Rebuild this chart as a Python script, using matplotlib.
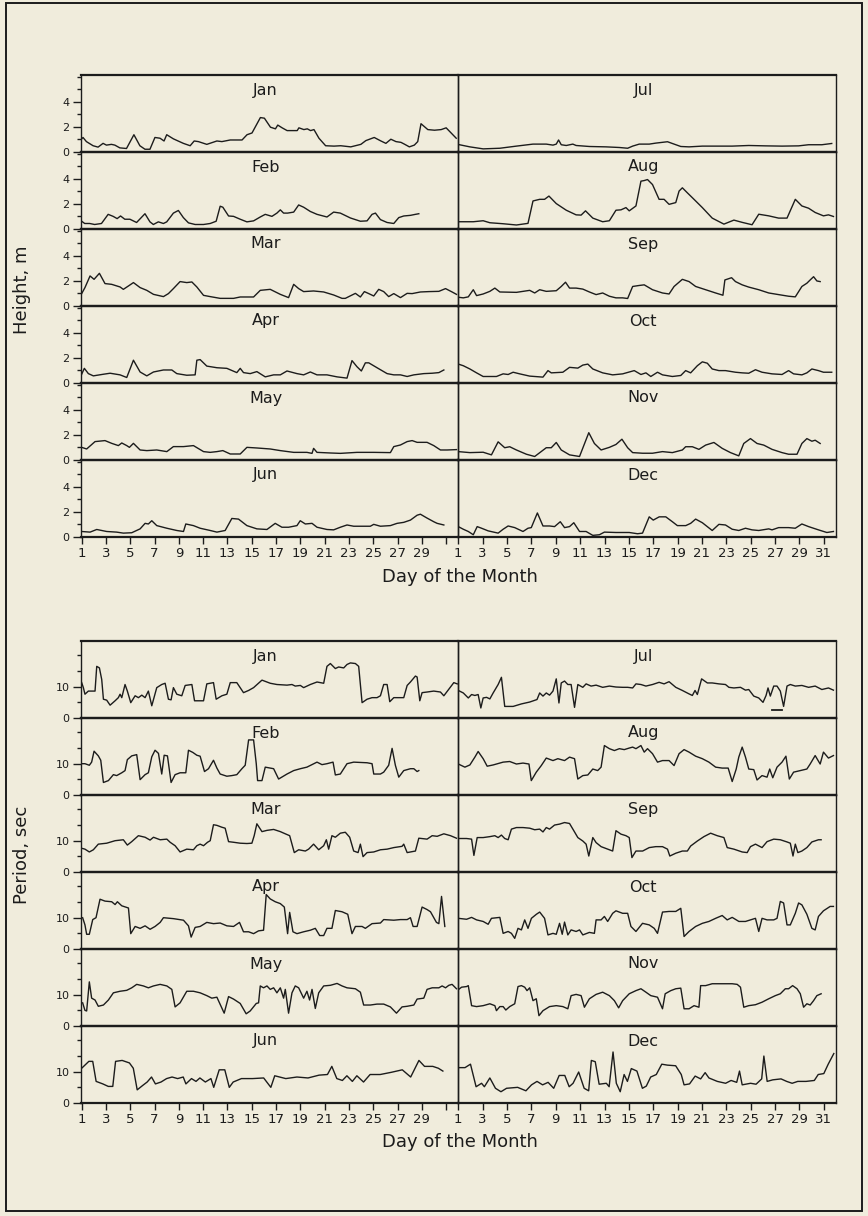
import matplotlib.pyplot as plt
from matplotlib.patches import Rectangle
from matplotlib.ticker import FixedLocator

# ---- data: (day of month, value) ----
# wave height, m
hs_jan = [(1.0, 1.05), (1.11, 1.16), (1.39, 0.83), (1.94, 0.5), (2.35, 0.39), (2.76, 0.69), (3.04, 0.55), (3.45, 0.61),
          (3.73, 0.55), (4.14, 0.33), (4.69, 0.28), (5.3, 1.38), (5.79, 0.5), (6.21, 0.22), (6.62, 0.22), (7.03, 1.16),
          (7.45, 1.1), (7.78, 0.88), (8.0, 1.38), (8.55, 1.05), (9.37, 0.69), (9.93, 0.5), (10.26, 0.88), (10.61, 0.83),
          (11.3, 0.61), (12.13, 0.88), (12.54, 0.83), (13.23, 0.96), (14.2, 0.96), (14.61, 1.38), (15.02, 1.52),
          (15.71, 2.75), (16.04, 2.7), (16.54, 1.98), (16.95, 1.85), (17.14, 2.15), (17.5, 1.93), (17.91, 1.71),
          (18.74, 1.71), (18.88, 1.93), (19.29, 1.79), (19.57, 1.85), (19.84, 1.71), (20.12, 1.79), (20.53, 1.1),
          (21.08, 0.5), (21.77, 0.47), (22.32, 0.5), (23.15, 0.41), (23.98, 0.61), (24.39, 0.91), (25.08, 1.16),
          (25.63, 0.88), (26.04, 0.69), (26.45, 1.02), (26.87, 0.83), (27.28, 0.77), (27.56, 0.63), (27.97, 0.41),
          (28.38, 0.55), (28.66, 0.83), (28.93, 2.26), (29.49, 1.79), (30.04, 1.74), (30.59, 1.79), (31.0, 1.93),
          (31.41, 1.52), (31.83, 1.1)]
hs_feb = [(1.0, 0.62), (1.25, 0.44), (1.66, 0.44), (2.07, 0.36), (2.63, 0.44), (3.18, 1.17), (3.59, 1.01), (3.92, 0.83),
          (4.2, 1.04), (4.55, 0.78), (4.97, 0.78), (5.52, 0.52), (6.21, 1.22), (6.62, 0.57), (6.9, 0.36), (7.31, 0.57),
          (7.73, 0.44), (8.0, 0.57), (8.55, 1.27), (8.96, 1.48), (9.37, 0.91), (9.79, 0.49), (10.34, 0.36), (11.03, 0.36),
          (11.58, 0.44), (12.07, 0.62), (12.4, 1.82), (12.62, 1.74), (13.09, 1.04), (13.5, 1.01), (14.05, 0.78),
          (14.6, 0.57), (15.15, 0.65), (15.7, 0.96), (16.11, 1.17), (16.66, 1.01), (17.07, 1.27), (17.35, 1.53),
          (17.62, 1.27), (17.95, 1.27), (18.45, 1.35), (18.86, 1.92), (19.27, 1.74), (19.82, 1.4), (20.37, 1.17),
          (21.19, 0.96), (21.74, 1.35), (22.29, 1.27), (23.12, 0.88), (23.94, 0.62), (24.49, 0.65), (24.9, 1.17),
          (25.18, 1.27), (25.59, 0.75), (26.14, 0.52), (26.69, 0.44), (27.1, 0.91), (27.51, 1.04), (28.06, 1.09),
          (28.47, 1.17), (28.75, 1.22)]
hs_mar = [(1.0, 0.99), (1.27, 1.47), (1.69, 2.4), (2.02, 2.13), (2.46, 2.61), (2.92, 1.79), (3.47, 1.73), (4.16, 1.52),
          (4.43, 1.33), (4.85, 1.6), (5.26, 1.87), (5.81, 1.47), (6.36, 1.25), (6.91, 0.93), (7.73, 0.75), (8.14, 0.99),
          (8.55, 1.39), (9.1, 1.95), (9.65, 1.87), (10.07, 1.92), (10.48, 1.52), (11.03, 0.85), (11.58, 0.75),
          (12.4, 0.61), (13.5, 0.61), (14.05, 0.72), (15.15, 0.72), (15.7, 1.25), (16.52, 1.33), (17.35, 0.93),
          (18.03, 0.67), (18.45, 1.73), (18.86, 1.39), (19.27, 1.15), (20.09, 1.2), (20.92, 1.12), (21.74, 0.88),
          (22.43, 0.61), (22.7, 0.61), (23.53, 1.01), (23.94, 0.72), (24.27, 1.15), (24.63, 0.99), (25.04, 0.8),
          (25.45, 1.33), (25.86, 1.15), (26.27, 0.75), (26.69, 0.99), (27.24, 0.67), (27.79, 1.01), (28.2, 0.99),
          (28.88, 1.12), (29.57, 1.15), (30.4, 1.17), (30.95, 1.39), (31.49, 1.12), (31.85, 0.93)]
hs_apr = [(1.0, 0.7), (1.22, 1.17), (1.55, 0.75), (1.96, 0.57), (2.79, 0.7), (3.34, 0.78), (4.16, 0.65), (4.71, 0.44),
          (5.26, 1.82), (5.81, 0.88), (6.36, 0.57), (6.91, 0.88), (7.73, 1.04), (8.42, 1.04), (8.83, 0.75), (9.65, 0.62),
          (10.34, 0.65), (10.48, 1.82), (10.75, 1.87), (11.3, 1.35), (12.13, 1.22), (12.95, 1.17), (13.77, 0.83),
          (14.05, 1.17), (14.32, 0.83), (14.87, 0.75), (15.42, 0.91), (16.11, 0.49), (16.8, 0.65), (17.35, 0.65),
          (17.9, 0.96), (18.72, 0.75), (19.27, 0.65), (19.82, 0.88), (20.37, 0.65), (21.19, 0.65), (22.02, 0.49),
          (22.84, 0.39), (23.25, 1.79), (23.66, 1.3), (24.02, 0.96), (24.35, 1.61), (24.63, 1.61), (25.31, 1.22),
          (26.14, 0.75), (26.69, 0.65), (27.24, 0.65), (27.79, 0.52), (28.34, 0.65), (29.16, 0.75), (29.85, 0.78),
          (30.4, 0.83), (30.81, 1.04)]
hs_may = [(1.0, 1.01), (1.41, 0.88), (2.1, 1.47), (2.92, 1.55), (3.47, 1.33), (4.02, 1.15), (4.3, 1.36), (4.71, 1.15),
          (4.93, 1.01), (5.26, 1.33), (5.81, 0.8), (6.36, 0.75), (7.18, 0.8), (8.01, 0.67), (8.55, 1.07), (9.38, 1.07),
          (10.2, 1.15), (11.03, 0.67), (11.58, 0.61), (12.13, 0.67), (12.62, 0.75), (13.23, 0.48), (14.05, 0.48),
          (14.6, 1.01), (15.42, 0.96), (16.52, 0.88), (17.35, 0.75), (18.45, 0.61), (19.54, 0.61), (19.96, 0.53),
          (20.09, 0.93), (20.37, 0.61), (21.47, 0.56), (22.29, 0.53), (23.66, 0.61), (25.04, 0.61), (26.41, 0.59),
          (26.69, 1.07), (27.24, 1.2), (27.79, 1.47), (28.2, 1.55), (28.61, 1.41), (29.43, 1.41), (29.98, 1.15),
          (30.53, 0.8), (31.08, 0.8), (31.85, 0.83)]
hs_jun = [(1.0, 0.44), (1.69, 0.39), (2.24, 0.6), (3.06, 0.44), (3.88, 0.39), (4.43, 0.31), (5.12, 0.34), (5.81, 0.65),
          (6.22, 1.09), (6.49, 1.04), (6.77, 1.3), (7.18, 0.91), (8.01, 0.7), (8.83, 0.52), (9.38, 0.44), (9.57, 1.04),
          (10.2, 0.91), (10.75, 0.7), (11.58, 0.52), (12.13, 0.39), (12.81, 0.52), (13.36, 1.48), (13.91, 1.43),
          (14.6, 0.91), (15.42, 0.65), (16.25, 0.6), (16.93, 1.09), (17.48, 0.78), (18.03, 0.78), (18.72, 0.91),
          (18.99, 1.3), (19.41, 1.04), (19.96, 1.09), (20.37, 0.78), (21.19, 0.6), (21.74, 0.57), (22.29, 0.78),
          (22.84, 0.96), (23.39, 0.86), (23.94, 0.86), (24.76, 0.86), (25.04, 1.01), (25.59, 0.86), (26.41, 0.91),
          (26.96, 1.09), (27.51, 1.17), (28.06, 1.35), (28.61, 1.74), (28.88, 1.82), (29.43, 1.51), (29.98, 1.22),
          (30.26, 1.09), (30.81, 0.96)]
hs_jul = [(1.0, 0.6), (1.95, 0.41), (3.04, 0.25), (4.41, 0.3), (5.77, 0.47), (7.13, 0.63), (8.22, 0.63), (8.77, 0.55),
          (9.04, 0.63), (9.23, 0.96), (9.45, 0.58), (9.86, 0.52), (10.4, 0.63), (10.67, 0.52), (11.76, 0.44),
          (13.13, 0.41), (14.22, 0.36), (14.9, 0.3), (15.31, 0.47), (15.85, 0.63), (16.67, 0.63), (17.21, 0.71),
          (18.17, 0.82), (18.57, 0.68), (19.26, 0.44), (19.94, 0.41), (21.03, 0.47), (22.12, 0.47), (23.48, 0.47),
          (24.84, 0.52), (26.2, 0.49), (27.57, 0.47), (28.93, 0.49), (29.75, 0.58), (30.84, 0.58), (31.65, 0.68)]
hs_aug = [(1.0, 0.58), (2.23, 0.58), (3.04, 0.66), (3.59, 0.5), (4.68, 0.42), (5.77, 0.32), (6.72, 0.45), (7.13, 2.24),
          (7.68, 2.37), (8.08, 2.37), (8.44, 2.63), (9.04, 2.03), (9.86, 1.5), (10.67, 1.13), (11.08, 1.11),
          (11.44, 1.45), (12.04, 0.87), (12.85, 0.58), (13.4, 0.66), (13.94, 1.5), (14.35, 1.53), (14.76, 1.71),
          (15.03, 1.45), (15.58, 1.84), (15.99, 3.82), (16.26, 3.87), (16.53, 3.95), (16.94, 3.55), (17.48, 2.37),
          (17.89, 2.37), (18.3, 1.97), (18.85, 2.11), (19.12, 3.03), (19.39, 3.29), (19.8, 2.89), (20.21, 2.5),
          (21.03, 1.71), (21.84, 0.87), (22.8, 0.39), (23.62, 0.71), (24.3, 0.53), (25.11, 0.34), (25.66, 1.18),
          (26.48, 1.05), (27.29, 0.87), (27.98, 0.87), (28.66, 2.37), (29.2, 1.84), (29.75, 1.66), (30.29, 1.32),
          (30.97, 1.05), (31.38, 1.13), (31.79, 1.0)]
hs_sep = [(1.0, 0.7), (1.41, 0.65), (1.82, 0.73), (2.23, 1.3), (2.5, 0.83), (3.04, 0.96), (3.59, 1.17), (4.0, 1.43),
          (4.41, 1.12), (5.77, 1.09), (6.86, 1.25), (7.27, 1.04), (7.68, 1.3), (8.22, 1.17), (9.04, 1.22), (9.45, 1.56),
          (9.8, 1.9), (10.13, 1.43), (10.67, 1.43), (11.22, 1.35), (11.76, 1.12), (12.31, 0.91), (12.85, 1.04),
          (13.4, 0.78), (13.94, 0.65), (14.49, 0.65), (14.9, 0.6), (15.31, 1.56), (15.85, 1.64), (16.26, 1.69),
          (16.94, 1.3), (17.76, 1.04), (18.3, 0.96), (18.71, 1.56), (19.39, 2.13), (19.94, 1.95), (20.48, 1.56),
          (21.3, 1.3), (22.12, 1.04), (22.72, 0.86), (22.88, 2.08), (23.43, 2.26), (23.75, 1.95), (24.3, 1.69),
          (24.84, 1.51), (25.66, 1.3), (26.48, 1.04), (27.29, 0.91), (28.11, 0.78), (28.66, 0.73), (29.2, 1.56),
          (29.61, 1.82), (29.88, 2.08), (30.16, 2.34), (30.43, 2.0), (30.7, 1.95)]
hs_oct = [(1.0, 1.51), (1.41, 1.38), (1.95, 1.12), (2.5, 0.81), (3.04, 0.52), (4.13, 0.52), (4.68, 0.73), (5.09, 0.68),
          (5.5, 0.86), (6.04, 0.73), (6.86, 0.55), (7.95, 0.47), (8.36, 0.99), (8.63, 0.81), (9.58, 0.86),
          (10.13, 1.25), (10.81, 1.19), (11.22, 1.43), (11.63, 1.51), (12.04, 1.12), (12.85, 0.81), (13.67, 0.65),
          (14.49, 0.73), (15.44, 0.99), (15.99, 0.68), (16.4, 0.81), (16.8, 0.52), (17.35, 0.86), (17.76, 0.65),
          (18.57, 0.52), (19.26, 0.6), (19.66, 0.99), (20.07, 0.81), (20.62, 1.38), (21.03, 1.69), (21.44, 1.58),
          (21.84, 1.12), (22.39, 0.99), (22.93, 0.99), (23.75, 0.86), (24.3, 0.81), (24.84, 0.78), (25.39, 1.06),
          (25.93, 0.86), (26.75, 0.73), (27.57, 0.68), (28.11, 0.99), (28.52, 0.73), (29.2, 0.65), (29.61, 0.81),
          (30.02, 1.12), (30.56, 0.99), (30.97, 0.86), (31.65, 0.86)]
hs_nov = [(1.0, 0.67), (1.95, 0.59), (3.04, 0.62), (3.72, 0.41), (4.27, 1.45), (4.81, 0.98), (5.22, 1.06), (5.77, 0.8),
          (6.59, 0.46), (7.27, 0.28), (8.22, 0.98), (8.63, 0.98), (9.04, 1.4), (9.45, 0.8), (10.13, 0.41), (10.95, 0.28),
          (11.71, 2.18), (12.17, 1.32), (12.72, 0.8), (13.4, 1.01), (13.94, 1.24), (14.43, 1.66), (14.9, 0.98),
          (15.31, 0.59), (16.13, 0.54), (16.94, 0.54), (17.76, 0.67), (18.57, 0.59), (19.39, 0.8), (19.66, 1.06),
          (20.21, 1.06), (20.75, 0.85), (21.3, 1.19), (21.98, 1.4), (22.66, 0.93), (23.34, 0.59), (24.02, 0.33),
          (24.43, 1.32), (24.98, 1.71), (25.52, 1.32), (26.07, 1.19), (26.75, 0.85), (27.57, 0.59), (28.11, 0.46),
          (28.8, 0.46), (29.2, 1.32), (29.61, 1.71), (30.02, 1.5), (30.29, 1.58), (30.7, 1.32)]
hs_dec = [(1.0, 0.83), (1.41, 0.62), (1.82, 0.44), (2.23, 0.18), (2.55, 0.83), (2.91, 0.7), (3.45, 0.49), (4.27, 0.31),
          (4.68, 0.62), (5.09, 0.88), (5.63, 0.75), (6.31, 0.44), (6.72, 0.7), (6.99, 0.75), (7.49, 1.92), (7.95, 0.88),
          (8.49, 0.88), (8.9, 0.83), (9.37, 1.22), (9.72, 0.75), (10.13, 0.83), (10.48, 1.14), (10.95, 0.44),
          (11.49, 0.44), (12.04, 0.13), (12.58, 0.18), (12.99, 0.39), (13.94, 0.36), (15.03, 0.36), (15.71, 0.26),
          (16.12, 0.31), (16.67, 1.61), (17.0, 1.35), (17.49, 1.61), (18.03, 1.61), (18.57, 1.22), (18.98, 0.91),
          (19.67, 0.91), (20.07, 1.09), (20.48, 1.43), (21.03, 1.14), (21.84, 0.52), (22.39, 1.01), (22.93, 0.96),
          (23.48, 0.62), (24.02, 0.52), (24.57, 0.7), (25.11, 0.57), (25.66, 0.52), (26.48, 0.65), (26.75, 0.57),
          (27.29, 0.75), (28.11, 0.75), (28.66, 0.7), (29.2, 1.04), (29.75, 0.83), (30.56, 0.57), (31.25, 0.36),
          (31.79, 0.44)]

# wave period, sec
tp_jan = [(1.0, 11.3), (1.14, 9.7), (1.27, 7.6), (1.55, 8.6), (1.96, 8.6), (2.1, 8.6), (2.24, 16.5), (2.46, 16.0),
          (2.65, 12.3), (2.79, 6.0), (3.06, 5.7), (3.34, 4.1), (3.75, 5.5), (4.02, 6.5), (4.16, 7.6), (4.3, 6.5),
          (4.57, 10.7), (4.76, 8.6), (5.04, 4.9), (5.4, 7.1), (5.67, 6.5), (5.95, 7.3), (6.22, 6.5), (6.49, 8.6),
          (6.77, 3.9), (7.18, 9.7), (7.59, 10.7), (7.87, 11.1), (8.14, 6.0), (8.36, 5.8), (8.55, 9.7), (8.83, 7.6),
          (9.24, 7.1), (9.52, 10.4), (10.07, 10.7), (10.29, 5.5), (11.03, 5.5), (11.3, 10.9), (11.85, 11.3),
          (12.07, 6.0), (12.54, 7.1), (12.95, 7.6), (13.23, 11.3), (13.77, 11.3), (14.32, 8.1), (14.74, 8.8),
          (15.15, 9.7), (15.84, 12.1), (16.52, 11.1), (17.07, 10.7), (17.9, 10.5), (18.31, 10.7), (18.58, 10.2),
          (19.0, 10.4), (19.27, 9.7), (19.82, 10.7), (20.37, 11.5), (20.92, 11.1), (21.19, 16.5), (21.47, 17.4),
          (21.88, 15.8), (22.15, 16.3), (22.57, 16.0), (22.84, 17.1), (23.12, 17.6), (23.53, 17.4), (23.8, 16.5),
          (24.08, 4.9), (24.49, 6.0), (24.9, 6.5), (25.31, 6.5), (25.59, 7.1), (25.86, 10.7), (26.14, 10.7),
          (26.36, 5.2), (26.69, 6.5), (27.51, 6.5), (27.79, 10.4), (28.06, 11.5), (28.47, 13.4), (28.61, 13.1),
          (28.83, 5.5), (29.02, 8.1), (29.43, 8.3), (29.98, 8.6), (30.53, 8.3), (30.81, 7.1), (31.22, 9.2),
          (31.63, 11.3), (31.91, 10.9)]
tp_feb = [(1.0, 10.0), (1.27, 10.0), (1.63, 9.5), (1.82, 10.5), (2.02, 14.0), (2.37, 12.5), (2.57, 11.1), (2.79, 4.0),
          (3.2, 4.6), (3.61, 6.5), (3.88, 6.2), (4.3, 7.1), (4.57, 7.8), (4.76, 11.3), (5.12, 12.5), (5.53, 12.9),
          (5.81, 4.9), (6.22, 6.5), (6.49, 7.1), (6.77, 12.2), (7.04, 14.3), (7.32, 13.3), (7.59, 6.7), (7.79, 12.7),
          (8.06, 12.5), (8.36, 4.0), (8.69, 6.5), (9.1, 7.1), (9.57, 7.1), (9.79, 14.3), (10.15, 13.6), (10.48, 12.7),
          (10.75, 12.4), (11.11, 7.5), (11.44, 8.4), (11.85, 11.1), (12.13, 8.6), (12.4, 6.7), (12.95, 6.0),
          (13.36, 6.2), (13.77, 6.5), (14.19, 8.4), (14.46, 9.5), (14.74, 17.6), (15.15, 17.6), (15.37, 10.0),
          (15.48, 4.6), (15.84, 4.6), (16.11, 8.9), (16.8, 8.4), (17.21, 5.1), (17.9, 6.7), (18.45, 7.8), (19.0, 8.4),
          (19.54, 8.9), (20.37, 10.5), (20.78, 9.7), (21.19, 10.0), (21.69, 10.5), (21.88, 6.4), (22.29, 6.7),
          (22.84, 10.0), (23.39, 10.5), (24.49, 10.3), (24.9, 10.0), (25.04, 6.7), (25.59, 6.7), (25.86, 7.3),
          (26.27, 9.5), (26.55, 14.9), (26.82, 9.5), (27.1, 5.7), (27.51, 7.8), (28.06, 8.4), (28.34, 8.4),
          (28.61, 7.5), (28.75, 7.8)]
tp_mar = [(1.08, 7.5), (1.27, 7.3), (1.63, 6.4), (1.96, 7.1), (2.37, 8.9), (3.06, 9.2), (3.75, 10.0), (4.43, 10.3),
          (4.76, 8.6), (5.12, 9.7), (5.67, 11.6), (6.22, 11.1), (6.63, 10.2), (6.91, 11.1), (7.46, 10.3), (8.01, 10.5),
          (8.28, 9.5), (8.69, 8.4), (9.1, 6.4), (9.65, 7.3), (10.2, 7.1), (10.48, 8.4), (10.75, 8.9), (11.03, 8.4),
          (11.36, 9.5), (11.58, 10.0), (11.85, 15.1), (12.13, 14.9), (12.54, 14.3), (12.81, 14.0), (13.09, 9.7),
          (13.5, 9.5), (14.05, 9.2), (14.6, 9.1), (15.01, 9.2), (15.2, 11.6), (15.42, 15.4), (15.84, 12.9),
          (16.25, 13.3), (16.8, 13.6), (17.35, 12.9), (17.76, 12.2), (18.12, 11.6), (18.31, 8.9), (18.5, 6.2),
          (18.86, 7.1), (19.41, 6.7), (19.68, 7.3), (20.09, 8.9), (20.51, 7.1), (20.92, 8.4), (21.14, 10.3),
          (21.33, 7.3), (21.6, 11.6), (21.88, 11.1), (22.29, 12.4), (22.7, 12.7), (23.06, 11.1), (23.39, 6.7),
          (23.75, 6.2), (23.94, 8.9), (24.16, 4.9), (24.49, 6.2), (25.04, 6.4), (25.59, 7.1), (26.14, 7.3),
          (26.69, 7.8), (27.37, 8.2), (27.51, 8.9), (27.79, 6.2), (28.47, 6.7), (28.75, 10.8), (29.43, 10.5),
          (29.85, 11.6), (30.26, 11.4), (30.81, 12.2), (31.36, 11.6), (31.85, 10.8)]
tp_apr = [(1.08, 10.0), (1.27, 7.7), (1.41, 4.7), (1.63, 4.7), (1.91, 9.4), (2.18, 10.0), (2.51, 15.9), (2.92, 15.3),
          (3.47, 15.1), (3.75, 14.2), (3.94, 15.1), (4.3, 13.8), (4.85, 13.1), (5.04, 4.9), (5.4, 7.2), (5.81, 6.6),
          (6.22, 7.4), (6.63, 6.3), (7.04, 7.2), (7.46, 8.5), (7.73, 10.0), (8.55, 9.7), (9.38, 9.2), (9.79, 7.4),
          (10.01, 3.8), (10.34, 6.9), (10.75, 7.2), (11.3, 8.5), (11.85, 8.1), (12.4, 8.3), (12.95, 7.4), (13.5, 7.2),
          (13.99, 8.5), (14.32, 5.5), (14.74, 5.5), (15.15, 4.9), (15.56, 5.8), (15.97, 6.0), (16.19, 17.4),
          (16.52, 16.0), (16.93, 15.1), (17.35, 14.5), (17.68, 13.4), (17.95, 4.9), (18.12, 11.7), (18.39, 5.5),
          (18.72, 4.9), (19.27, 5.5), (19.82, 6.0), (20.23, 6.6), (20.59, 4.3), (20.92, 4.3), (21.19, 6.6),
          (21.6, 6.6), (21.88, 12.3), (22.43, 11.9), (22.9, 11.1), (23.25, 4.9), (23.53, 7.2), (24.08, 7.2),
          (24.35, 6.6), (24.9, 8.1), (25.59, 8.3), (25.86, 9.4), (26.69, 9.2), (27.24, 9.4), (27.79, 9.4),
          (28.06, 10.0), (28.28, 7.2), (28.61, 7.2), (29.02, 13.4), (29.43, 12.6), (29.71, 11.9), (30.2, 8.5),
          (30.4, 8.1), (30.62, 16.8), (30.89, 7.2)]
tp_may = [(1.08, 7.4), (1.27, 5.0), (1.41, 4.8), (1.63, 14.1), (1.82, 8.9), (2.1, 8.3), (2.37, 6.3), (2.79, 6.7),
          (3.2, 8.3), (3.61, 10.6), (4.16, 11.1), (4.71, 11.4), (5.12, 12.2), (5.53, 13.3), (6.08, 12.8), (6.49, 12.2),
          (6.91, 12.8), (7.46, 13.3), (8.01, 12.8), (8.42, 11.7), (8.69, 6.1), (9.1, 7.4), (9.65, 11.1), (10.2, 11.1),
          (10.75, 10.6), (11.3, 9.7), (11.71, 8.9), (12.13, 9.2), (12.73, 4.1), (13.09, 9.4), (13.5, 8.6),
          (14.05, 7.2), (14.54, 3.9), (14.87, 4.8), (15.37, 7.2), (15.56, 7.4), (15.7, 12.8), (15.97, 12.2),
          (16.25, 12.8), (16.52, 11.7), (16.8, 12.2), (17.07, 10.6), (17.35, 12.2), (17.62, 8.9), (17.76, 11.7),
          (18.03, 4.1), (18.31, 10.6), (18.58, 12.8), (18.86, 12.2), (19.27, 8.9), (19.54, 11.1), (19.76, 8.3),
          (19.96, 11.7), (20.23, 5.6), (20.51, 10.6), (20.92, 12.8), (21.47, 13.0), (22.02, 13.6), (22.43, 12.8),
          (22.84, 12.2), (23.53, 11.9), (23.94, 10.8), (24.21, 6.7), (24.76, 6.7), (25.31, 7.0), (25.86, 7.0),
          (26.41, 6.1), (26.91, 4.1), (27.37, 6.1), (27.79, 6.3), (28.34, 6.7), (28.61, 8.6), (29.16, 8.9),
          (29.43, 11.7), (29.85, 12.2), (30.4, 12.2), (30.67, 12.8), (30.95, 12.2), (31.22, 13.0), (31.49, 13.3),
          (31.85, 11.9)]
tp_jun = [(1.0, 11.1), (1.59, 13.3), (1.91, 13.3), (2.19, 6.9), (2.74, 6.1), (3.19, 5.3), (3.56, 5.3), (3.79, 13.3),
          (4.33, 13.6), (4.93, 12.8), (5.25, 11.1), (5.57, 4.2), (6.02, 5.6), (6.39, 6.7), (6.75, 8.3), (7.07, 6.1),
          (7.53, 6.7), (7.99, 7.8), (8.44, 8.3), (8.9, 7.8), (9.36, 8.3), (9.58, 6.1), (10.04, 7.8), (10.41, 6.9),
          (10.73, 8.0), (11.18, 6.7), (11.64, 7.8), (11.87, 5.0), (12.32, 10.6), (12.78, 10.6), (13.15, 5.0),
          (13.47, 6.7), (14.15, 7.8), (15.06, 7.8), (15.98, 8.0), (16.57, 5.0), (16.89, 8.7), (17.8, 7.8),
          (18.72, 8.3), (19.63, 8.0), (20.54, 8.9), (21.23, 9.1), (21.59, 11.7), (22.0, 7.8), (22.46, 7.2),
          (22.83, 8.7), (23.28, 6.9), (23.65, 8.7), (24.2, 6.7), (24.74, 9.1), (25.57, 9.1), (26.48, 9.8),
          (27.39, 10.6), (28.08, 8.3), (28.76, 13.6), (29.22, 11.7), (29.9, 11.7), (30.36, 11.1), (30.73, 10.2)]
tp_jul = [(1.0, 8.8), (1.41, 8.0), (1.82, 6.4), (2.09, 7.5), (2.36, 7.2), (2.63, 7.5), (2.85, 3.2), (3.04, 6.4),
          (3.32, 6.6), (3.59, 6.1), (3.86, 8.0), (4.27, 10.7), (4.54, 13.0), (4.81, 3.7), (5.5, 3.7), (6.18, 4.5),
          (6.86, 5.1), (7.46, 5.9), (7.68, 8.0), (7.95, 7.0), (8.22, 8.0), (8.49, 7.3), (8.77, 8.6), (9.04, 12.5),
          (9.26, 4.8), (9.45, 11.2), (9.72, 11.8), (9.99, 10.7), (10.26, 10.7), (10.54, 3.4), (10.81, 10.7),
          (11.22, 9.8), (11.49, 10.9), (11.9, 10.2), (12.31, 10.5), (12.85, 9.8), (13.4, 10.2), (13.94, 9.9),
          (14.49, 9.8), (14.9, 9.8), (15.31, 9.6), (15.58, 10.9), (15.99, 10.7), (16.4, 10.2), (16.94, 10.7),
          (17.48, 11.4), (17.89, 10.9), (18.3, 11.6), (18.85, 9.8), (19.39, 8.8), (19.94, 7.7), (20.21, 7.2),
          (20.43, 8.8), (20.62, 7.5), (20.97, 12.5), (21.44, 11.2), (21.84, 11.2), (22.39, 10.9), (22.93, 10.7),
          (23.21, 9.8), (23.62, 9.6), (24.16, 9.8), (24.57, 8.9), (24.84, 9.1), (25.25, 7.0), (25.66, 6.4),
          (26.01, 5.0), (26.26, 7.2), (26.42, 9.6), (26.61, 7.0), (26.89, 10.2), (27.16, 10.2), (27.43, 8.6),
          (27.7, 3.7), (27.98, 10.2), (28.25, 10.7), (28.66, 10.2), (29.2, 10.4), (29.75, 9.8), (30.29, 10.2),
          (30.84, 9.1), (31.38, 9.6), (31.79, 8.9)]
tp_jul_dash = [(26.75, 2.4), (27.57, 2.4)]
tp_aug = [(1.0, 9.9), (1.54, 8.9), (1.95, 9.6), (2.36, 12.1), (2.63, 13.9), (3.04, 11.6), (3.37, 9.2), (3.86, 9.6),
          (4.68, 10.5), (5.22, 10.7), (5.77, 9.9), (6.31, 10.2), (6.8, 9.9), (6.99, 4.6), (7.4, 7.3), (7.81, 9.4),
          (8.22, 11.8), (8.77, 11.0), (9.17, 11.6), (9.72, 11.0), (10.13, 12.1), (10.54, 11.6), (10.81, 5.1),
          (11.22, 6.2), (11.63, 6.4), (12.04, 8.3), (12.44, 7.8), (12.72, 8.9), (12.99, 15.8), (13.4, 14.8),
          (13.81, 14.2), (14.22, 14.8), (14.62, 14.5), (15.03, 15.0), (15.31, 15.3), (15.58, 14.8), (15.99, 15.8),
          (16.26, 13.7), (16.53, 14.8), (16.94, 13.2), (17.35, 10.5), (17.76, 11.0), (18.3, 11.0), (18.71, 9.4),
          (19.12, 13.2), (19.53, 14.5), (19.94, 13.7), (20.48, 12.4), (21.03, 11.6), (21.57, 10.5), (22.12, 8.9),
          (22.66, 8.6), (23.15, 8.6), (23.48, 4.3), (23.81, 8.3), (24.02, 12.1), (24.3, 15.3), (24.57, 12.1),
          (24.84, 8.3), (25.25, 8.1), (25.52, 4.8), (25.93, 6.2), (26.34, 5.7), (26.56, 8.3), (26.81, 5.5),
          (27.16, 8.9), (27.57, 10.5), (27.89, 12.4), (28.17, 5.1), (28.52, 7.3), (29.07, 7.8), (29.61, 8.3),
          (29.88, 9.9), (30.29, 12.6), (30.7, 9.9), (30.97, 13.7), (31.38, 11.8), (31.79, 12.6)]
tp_sep = [(1.0, 10.7), (1.68, 10.7), (2.09, 10.5), (2.28, 5.3), (2.55, 11.0), (3.04, 11.0), (3.59, 11.3), (4.0, 11.6),
          (4.27, 11.0), (4.54, 11.8), (4.81, 10.7), (5.09, 10.3), (5.36, 13.7), (5.77, 14.2), (6.31, 14.2),
          (6.86, 14.0), (7.27, 13.5), (7.68, 13.7), (7.95, 12.8), (8.22, 14.2), (8.49, 13.7), (8.9, 15.0),
          (9.31, 15.3), (9.72, 15.8), (10.13, 15.5), (10.54, 12.8), (10.81, 11.0), (11.22, 9.9), (11.49, 8.9),
          (11.71, 5.1), (12.04, 11.0), (12.31, 9.4), (12.72, 8.1), (13.13, 7.5), (13.67, 6.7), (13.94, 13.2),
          (14.35, 12.1), (14.76, 11.6), (15.03, 11.0), (15.25, 4.6), (15.58, 6.7), (16.13, 6.7), (16.67, 7.8),
          (17.21, 8.1), (17.76, 8.1), (18.17, 7.3), (18.36, 5.1), (18.85, 6.0), (19.39, 6.7), (19.8, 6.7),
          (20.07, 8.3), (20.62, 9.9), (21.16, 11.3), (21.71, 12.4), (22.25, 11.6), (22.8, 11.0), (23.07, 7.8),
          (23.62, 7.3), (24.3, 6.4), (24.71, 6.2), (24.98, 8.1), (25.39, 8.9), (25.93, 7.8), (26.34, 9.7),
          (26.89, 10.5), (27.43, 10.3), (27.98, 9.6), (28.25, 9.2), (28.47, 5.1), (28.66, 8.9), (28.87, 6.2),
          (29.2, 6.7), (29.61, 7.8), (30.02, 9.6), (30.56, 10.3), (30.78, 10.3)]
tp_oct = [(1.0, 9.8), (1.68, 9.5), (2.09, 10.1), (2.5, 9.3), (3.04, 8.8), (3.45, 7.9), (3.72, 9.8), (4.41, 10.1),
          (4.68, 5.0), (5.09, 5.6), (5.36, 5.0), (5.63, 3.4), (5.9, 6.6), (6.18, 6.1), (6.45, 9.3), (6.72, 6.6),
          (7.0, 9.8), (7.41, 11.1), (7.68, 11.8), (8.08, 9.8), (8.36, 4.5), (8.77, 5.0), (9.04, 4.7), (9.31, 8.2),
          (9.53, 4.7), (9.72, 8.6), (9.99, 4.5), (10.26, 6.1), (10.67, 5.6), (10.95, 6.1), (11.22, 4.5), (11.76, 5.3),
          (12.17, 5.0), (12.31, 9.3), (12.72, 9.3), (12.99, 10.4), (13.26, 8.8), (13.67, 11.4), (13.94, 12.2),
          (14.49, 11.4), (14.9, 11.4), (15.17, 7.2), (15.58, 5.6), (16.12, 8.2), (16.67, 7.7), (17.08, 6.6),
          (17.35, 5.0), (17.76, 11.8), (18.3, 12.0), (18.85, 12.0), (19.26, 13.0), (19.53, 4.0), (19.94, 5.6),
          (20.48, 7.2), (21.03, 8.2), (21.57, 8.8), (22.12, 9.8), (22.66, 10.7), (23.07, 9.3), (23.48, 10.1),
          (24.03, 8.8), (24.57, 8.8), (24.98, 9.3), (25.39, 9.8), (25.66, 5.6), (25.93, 9.8), (26.34, 9.3),
          (26.89, 9.3), (27.16, 9.8), (27.43, 15.2), (27.7, 14.7), (27.98, 7.7), (28.25, 7.7), (28.66, 11.4),
          (28.93, 14.7), (29.2, 14.1), (29.61, 11.1), (30.02, 6.6), (30.29, 6.1), (30.56, 10.4), (30.97, 12.2),
          (31.52, 13.6), (31.79, 13.6)]
tp_nov = [(1.0, 11.6), (1.27, 12.4), (1.68, 12.6), (1.82, 12.9), (2.09, 6.5), (2.5, 6.2), (3.04, 6.5), (3.59, 7.1),
          (4.0, 6.5), (4.13, 4.9), (4.41, 6.2), (4.68, 6.2), (4.9, 5.1), (5.22, 6.2), (5.63, 7.1), (5.9, 12.6),
          (6.18, 12.9), (6.45, 12.4), (6.64, 11.3), (6.86, 12.2), (7.13, 8.1), (7.4, 8.7), (7.62, 3.3), (7.95, 4.9),
          (8.49, 6.2), (9.04, 6.5), (9.58, 6.2), (9.99, 5.5), (10.26, 9.7), (10.67, 10.1), (11.08, 9.7), (11.35, 6.0),
          (11.76, 8.7), (12.31, 10.1), (12.85, 10.8), (13.4, 9.7), (13.81, 8.1), (14.16, 5.8), (14.49, 8.1),
          (15.03, 10.3), (15.58, 11.3), (15.99, 11.9), (16.4, 10.8), (16.8, 9.7), (17.35, 9.2), (17.76, 5.5),
          (17.98, 10.3), (18.44, 11.3), (18.85, 11.9), (19.26, 12.1), (19.53, 5.5), (19.94, 5.5), (20.35, 6.5),
          (20.75, 6.0), (20.89, 12.9), (21.3, 12.9), (21.84, 13.5), (22.39, 13.5), (22.93, 13.5), (23.48, 13.5),
          (23.89, 13.3), (24.16, 12.4), (24.43, 6.0), (24.84, 6.5), (25.39, 6.8), (25.93, 7.6), (26.48, 8.7),
          (27.02, 9.7), (27.43, 10.3), (27.84, 11.9), (28.11, 11.9), (28.44, 12.9), (28.8, 11.9), (29.07, 10.3),
          (29.34, 6.0), (29.61, 7.1), (29.88, 6.7), (30.16, 8.1), (30.43, 9.7), (30.78, 10.3)]
tp_dec = [(1.0, 11.3), (1.55, 11.3), (2.0, 12.4), (2.46, 5.2), (2.91, 6.3), (3.14, 5.2), (3.59, 8.0), (4.05, 4.7),
          (4.5, 3.6), (4.96, 4.7), (5.87, 5.0), (6.55, 3.9), (7.01, 5.8), (7.46, 6.9), (7.92, 5.8), (8.37, 6.6),
          (8.83, 4.7), (9.28, 8.8), (9.74, 8.8), (10.1, 5.2), (10.42, 6.3), (10.88, 9.9), (11.33, 4.7), (11.7, 3.9),
          (11.92, 13.6), (12.24, 13.2), (12.56, 6.0), (13.15, 6.3), (13.38, 5.2), (13.7, 16.3), (13.97, 6.3),
          (14.29, 3.6), (14.61, 9.1), (14.88, 6.9), (15.2, 11.0), (15.66, 10.2), (16.11, 4.7), (16.43, 5.4),
          (16.79, 8.3), (17.25, 9.1), (17.7, 12.4), (18.16, 12.1), (18.84, 11.9), (19.3, 9.1), (19.53, 5.8),
          (19.98, 6.1), (20.44, 8.6), (20.89, 7.7), (21.26, 9.7), (21.57, 8.0), (22.26, 6.9), (22.94, 6.3),
          (23.39, 7.2), (23.85, 6.6), (24.08, 10.2), (24.3, 5.8), (24.99, 6.3), (25.44, 6.0), (25.9, 7.7),
          (26.08, 15.0), (26.35, 6.9), (26.81, 7.4), (27.49, 7.7), (27.95, 6.9), (28.4, 6.3), (28.86, 6.9),
          (29.54, 6.9), (30.22, 7.2), (30.54, 9.1), (31.0, 9.4), (31.36, 12.4), (31.82, 15.8)]

MONTHS = ['Jan', 'Feb', 'Mar', 'Apr', 'May', 'Jun', 'Jul', 'Aug', 'Sep', 'Oct', 'Nov', 'Dec']
height_series = [hs_jan, hs_feb, hs_mar, hs_apr, hs_may, hs_jun,
                 hs_jul, hs_aug, hs_sep, hs_oct, hs_nov, hs_dec]
period_series = [tp_jan, tp_feb, tp_mar, tp_apr, tp_may, tp_jun,
                 tp_jul, tp_aug, tp_sep, tp_oct, tp_nov, tp_dec]

# ---- styling / layout (pixels of the 868x1216 page) ----
BG = '#f0ecdc'
INK = '#1c1c1c'
W, H = 868, 1216
COL_X = [80.7, 458.3]
COL_W = [377.6, 377.7]
ROW_H = 77.0

plt.rcParams['font.family'] = ['DejaVu Sans']
fig = plt.figure(figsize=(W / 100, H / 100), dpi=100)
fig.patch.set_facecolor(BG)


def add_px_axes(x0, y0, w, h):
    return fig.add_axes([x0 / W, 1 - (y0 + h) / H, w / W, h / H])


def draw_block(top, series, ymax, major, minor, ylabel, ylabel_y, xlabel_y, extra=None):
    for i, name in enumerate(MONTHS):
        col, row = divmod(i, 6)
        ax = add_px_axes(COL_X[col], top + row * ROW_H, COL_W[col], ROW_H)
        ax.set_facecolor('none')
        days = [p[0] for p in series[i]]
        vals = [p[1] for p in series[i]]
        ax.plot(days, vals, color=INK, lw=1.0)
        if extra is not None and name in extra:
            ex = extra[name]
            ax.plot([p[0] for p in ex], [p[1] for p in ex], color=INK, lw=1.3)
        ax.set_xlim(0.92 if col == 0 else 1.0, 32.0)
        ax.set_ylim(0, ymax)
        for side in ('top', 'bottom'):
            ax.spines[side].set_linewidth(1.6)
        for side in ('left', 'right'):
            ax.spines[side].set_linewidth(1.0)
        for sp in ax.spines.values():
            sp.set_color(INK)
        ax.text(0.49, 1 - 15 / ROW_H, name, transform=ax.transAxes,
                ha='center', va='center', fontsize=11.5, color=INK)

        if col == 0:
            ax.yaxis.set_major_locator(FixedLocator(major))
            ax.yaxis.set_minor_locator(FixedLocator(minor))
            ax.tick_params(axis='y', which='major', direction='out', length=6,
                           width=1.0, labelsize=8, pad=2, colors=INK)
            ax.tick_params(axis='y', which='minor', direction='out', length=3,
                           width=1.0, colors=INK)
        else:
            ax.tick_params(axis='y', which='both', left=False, labelleft=False)

        if row == 5:
            ticks = list(range(1, 32, 2))
            labels = [str(t) for t in ticks]
            if col == 0:
                labels[-1] = ''
            ax.xaxis.set_major_locator(FixedLocator(ticks))
            ax.set_xticklabels(labels)
            ax.tick_params(axis='x', direction='out', length=5, width=1.0,
                           labelsize=9.5, pad=2, colors=INK)
        else:
            ax.tick_params(axis='x', which='both', bottom=False, labelbottom=False)

    fig.text(22 / W, 1 - ylabel_y / H, ylabel, rotation=90, ha='center',
             va='center', fontsize=13, color=INK)
    fig.text(460 / W, 1 - xlabel_y / H, 'Day of the Month', ha='center',
             va='center', fontsize=13, color=INK)


draw_block(75, height_series, 6.15, [0, 2, 4], [1, 3, 5, 6],
           'Height, m', 290, 577)
draw_block(641, period_series, 24.6, [0, 10], [5, 15, 20],
           'Period, sec', 855, 1142, extra={'Jul': tp_jul_dash})

# page frame of the scanned sheet
fig.add_artist(Rectangle((6 / W, 1 - 1211 / H), (862 - 6) / W, (1211 - 3) / H,
                         transform=fig.transFigure, fill=False, lw=1.4, ec=INK))

fig.savefig('out.png', dpi=100, facecolor=BG)
